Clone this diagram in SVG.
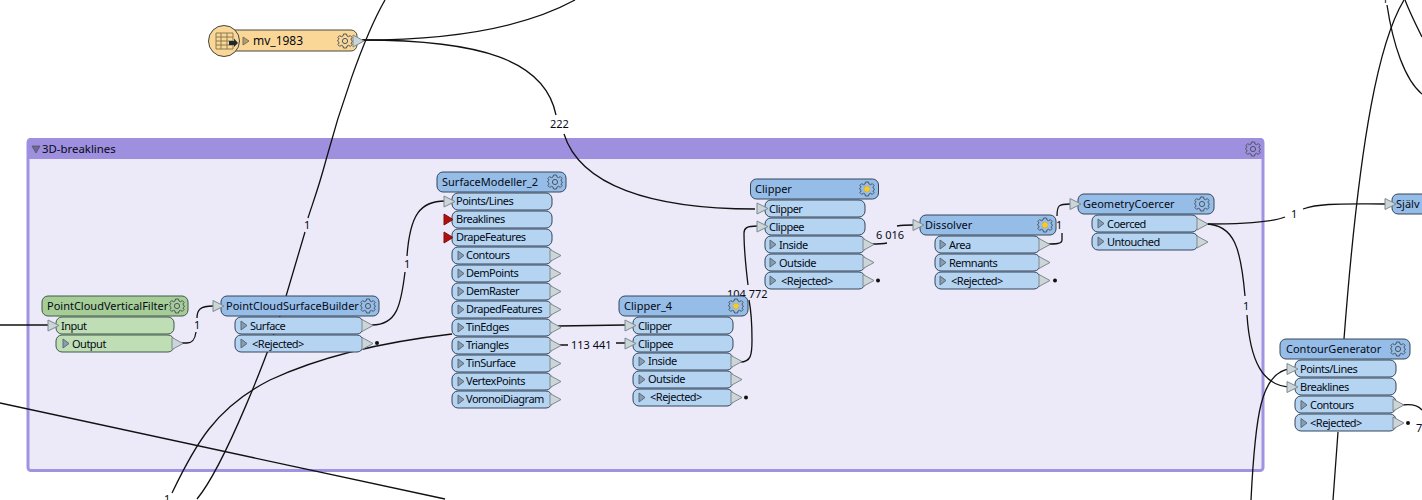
<svg xmlns="http://www.w3.org/2000/svg" xmlns:xlink="http://www.w3.org/1999/xlink" width="1422" height="500" viewBox="0 0 1422 500">
<style>
text{font-family:"Noto Sans","Liberation Sans",sans-serif;font-size:11px;letter-spacing:-.5px;fill:#050a14}
text.n,text.l{letter-spacing:0}
text.m{font-size:12px;letter-spacing:0}
text.g{font-size:11.4px;letter-spacing:0}
.c{fill:none;stroke:#111;stroke-width:1.3}
.h{fill:#95bde8;stroke:#34465a;stroke-width:1}
.p{fill:#b5d4f1;stroke:#34465a;stroke-width:1}
.gh{fill:#a6cd98;stroke:#3f5a48;stroke-width:1}
.gp{fill:#c0deb6;stroke:#3f5a48;stroke-width:1}
.tri{fill:#ccd5d8;stroke:#7d8a90;stroke-width:1}
.red{fill:#b01010;stroke:#801010;stroke-width:1}
.mini{fill:#8a9cb0;stroke:#5a6a7a;stroke-width:1}
.dot{fill:#111}
.gear{fill:none;stroke:#4c5660;stroke-width:1}
</style>
<defs>
<g id="gear">
<path class="gear" d="M-1.500-7H1.500L2-5L3.600-4.300L5.300-5.400L7.100-3.600L5.900-2L6.600-.5L7.500 0L6.600 1.500L5.900 2L7.100 3.600L5.300 5.400L3.600 4.300L2 5L1.500 7H-1.500L-2 5L-3.600 4.300L-5.300 5.400L-7.100 3.600L-5.900 2L-6.600 .5L-7.500 0L-6.600-1.500L-5.900-2L-7.100-3.600L-5.300-5.400L-3.600-4.300L-2-5Z"/>
<circle class="gear" r="2.600"/>
</g>
<g id="gearOn">
<use href="#gear"/>
<circle r="3" fill="#f6c92e"/>
</g>
<path id="in" class="tri" d="M0-5.500L11 0L0 5.500Z"/>
<path id="out" class="tri" d="M0-6L11 0L0 6Z"/>
<path id="inRed" class="red" d="M0-5.500L9 0L0 5.500Z"/>
<path id="mini" class="mini" d="M0-4.500L6 0L0 4.500Z"/>
</defs>

<g id="bookmark-3D-breaklines">
<rect x="28" y="139.500" width="1235" height="331" rx="3" fill="#ece9f8" stroke="#a094e0" stroke-width="3"/>
<path d="M27 142a4 4 0 0 1 4-4H1260a4 4 0 0 1 4 4V159H27Z" fill="#9e90de"/>
<path d="M32 146H40L36 153Z" fill="#6f6a8c" stroke="#4f4a6c" stroke-width=".7"/>
<text class="g" x="42" y="153">3D-breaklines</text>
<use href="#gear" x="1253" y="149"/>
</g>

<g id="connectors">
<path class="c" d="M0 325H48"/>
<path class="c" d="M385 0C362 40 338 115 326 160C318 190 312 205 308 218M305 232C298 255 291 280 284 303C270 350 225 465 197 499"/>
<path class="c" d="M0 403L445 499"/>
<path class="c" d="M452 334C400 340 330 352 270 380C215 408 195 445 172 493"/>
<path class="c" d="M362 40C480 40 545 60 556 115M564 134C580 185 650 209 755 209"/>
<path class="c" d="M362 40C440 40 520 30 575 0"/>
<path class="c" d="M182 343H187C193 343 195 339 196 332M197 318C197 310 200 306 213 306"/>
<path class="c" d="M372 325C397 325 401 305 405 272M407 256C410 215 420 201 445 201"/>
<path class="c" d="M558 326L625 325"/>
<path class="c" d="M558 345H568M616 343H625"/>
<path class="c" d="M740 362C751 362 752 355 752 340C752 325 751 310 749 300M748 285C745 260 744 240 744 233C744 228 747 226 757 226"/>
<path class="c" d="M871 244C878 244 882 244 887 243M897 226C903 225 908 225 913 225"/>
<path class="c" d="M1046 244C1056 244 1062 244 1062 240V233M1057 216C1057 205 1059 204 1070 204"/>
<path class="c" d="M1205 224C1240 224 1270 223 1285 217M1303 209C1320 203 1340 204 1385 204"/>
<path class="c" d="M1205 224C1235 224 1241 250 1245 296M1247 315C1250 360 1262 387 1292 387"/>
<path class="c" d="M1251 500C1255 420 1260 369 1292 369"/>
<path class="c" d="M1404 0C1380 40 1360 130 1344 339M1338 432L1333 500"/>
<path class="c" d="M1387 5C1393 45 1405 80 1422 94"/>
<path class="c" d="M1405 0C1410 13 1416 25 1422 37"/>
<path class="c" d="M1402 405C1410 404 1418 405 1422 410"/>
<text class="l" x="164" y="503">1</text>
<text class="l" x="304" y="229">1</text>
<text class="l" x="550" y="128">222</text>
<text class="l" x="194" y="329">1</text>
<text class="l" x="404" y="268">1</text>
<text class="l" x="571" y="349">113 441</text>
<text class="l" x="727" y="298">104 772</text>
<text class="l" x="876" y="239">6 016</text>
<text class="l" x="1056" y="229">1</text>
<text class="l" x="1291" y="218">1</text>
<text class="l" x="1243" y="310">1</text>
<text class="l" x="1382" y="3">1</text>
<text class="l" x="1416" y="432">7</text>
</g>

<g id="mv_1983">
<rect x="225" y="30" width="132" height="21" rx="6" fill="#fbd797" stroke="#4a4a40"/>
<circle cx="224" cy="41" r="15.500" fill="#fbd797" stroke="#444"/>
<path d="M216 33H233V49H216ZM216 37H233M216 41H233M216 45H233M221 33V49M227 33V49" fill="none" stroke="#8a7a50" stroke-width="1"/>
<path d="M229 41H234V38.500L238 43L234 47V45H229Z" fill="#1c2a30"/>
<path d="M243 37L249 41L243 45Z" fill="#b0a070" stroke="#7a7050"/>
<text class="m" x="253" y="45">mv_1983</text>
<use href="#gear" x="345" y="41"/>
<use href="#out" x="353" y="41"/>
</g>

<g id="PointCloudVerticalFilter">
<rect class="gh" x="42" y="296" width="146" height="20" rx="6"/>
<rect class="gp" x="56" y="317" width="118" height="17" rx="6"/>
<rect class="gp" x="56" y="335" width="118" height="17" rx="6"/>
<text class="n" x="47" y="310">PointCloudVerticalFilter</text>
<use href="#gear" x="177" y="306"/>
<use href="#in" x="48" y="325.500"/>
<text x="61" y="330">Input</text>
<use href="#mini" x="63" y="343.500"/>
<text x="72" y="348">Output</text>
<use href="#out" x="172" y="343.500"/>
</g>

<g id="PointCloudSurfaceBuilder">
<rect class="h" x="221" y="296" width="158" height="20" rx="6"/>
<rect class="p" x="235" y="317" width="128" height="17" rx="6"/>
<rect class="p" x="235" y="335" width="128" height="17" rx="6"/>
<text class="n" x="226" y="310">PointCloudSurfaceBuilder</text>
<use href="#gear" x="368" y="306"/>
<use href="#in" x="213" y="306"/>
<use href="#mini" x="241" y="325.500"/>
<text x="250" y="330">Surface</text>
<use href="#mini" x="241" y="343.500"/>
<text x="252" y="348">&lt;Rejected&gt;</text>
<use href="#out" x="362" y="325.500"/>
<use href="#out" x="362" y="343.500"/>
<circle class="dot" cx="377" cy="343" r="2"/>
</g>

<g id="SurfaceModeller_2">
<rect class="h" x="437" y="172" width="129" height="20" rx="6"/>
<rect class="p" x="452" y="193" width="100" height="17" rx="6"/>
<rect class="p" x="452" y="211" width="100" height="17" rx="6"/>
<rect class="p" x="452" y="229" width="100" height="17" rx="6"/>
<rect class="p" x="452" y="247" width="100" height="17" rx="6"/>
<rect class="p" x="452" y="265" width="100" height="17" rx="6"/>
<rect class="p" x="452" y="283" width="100" height="17" rx="6"/>
<rect class="p" x="452" y="301" width="100" height="17" rx="6"/>
<rect class="p" x="452" y="319" width="100" height="17" rx="6"/>
<rect class="p" x="452" y="337" width="100" height="17" rx="6"/>
<rect class="p" x="452" y="355" width="100" height="17" rx="6"/>
<rect class="p" x="452" y="373" width="100" height="17" rx="6"/>
<rect class="p" x="452" y="391" width="100" height="17" rx="6"/>
<text class="n" x="442" y="186">SurfaceModeller_2</text>
<use href="#gear" x="555" y="182"/>
<use href="#in" x="444" y="201.500"/>
<use href="#inRed" x="444" y="219.500"/>
<use href="#inRed" x="444" y="237.500"/>
<text x="456" y="205">Points/Lines</text>
<text x="456" y="223">Breaklines</text>
<text x="456" y="241">DrapeFeatures</text>
<use href="#mini" x="458" y="255.500"/><text x="466" y="259">Contours</text><use href="#out" x="550" y="255.500"/>
<use href="#mini" x="458" y="273.500"/><text x="466" y="277">DemPoints</text><use href="#out" x="550" y="273.500"/>
<use href="#mini" x="458" y="291.500"/><text x="466" y="295">DemRaster</text><use href="#out" x="550" y="291.500"/>
<use href="#mini" x="458" y="309.500"/><text x="466" y="313">DrapedFeatures</text><use href="#out" x="550" y="309.500"/>
<use href="#mini" x="458" y="327.500"/><text x="466" y="331">TinEdges</text><use href="#out" x="550" y="327.500"/>
<use href="#mini" x="458" y="345.500"/><text x="466" y="349">Triangles</text><use href="#out" x="550" y="345.500"/>
<use href="#mini" x="458" y="363.500"/><text x="466" y="367">TinSurface</text><use href="#out" x="550" y="363.500"/>
<use href="#mini" x="458" y="381.500"/><text x="466" y="385">VertexPoints</text><use href="#out" x="550" y="381.500"/>
<use href="#mini" x="458" y="399.500"/><text x="466" y="403">VoronoiDiagram</text><use href="#out" x="550" y="399.500"/>
</g>

<g id="Clipper_4">
<rect class="h" x="619" y="296" width="129" height="20" rx="6"/>
<rect class="p" x="633" y="317" width="100" height="17" rx="6"/>
<rect class="p" x="633" y="335" width="100" height="17" rx="6"/>
<rect class="p" x="633" y="353" width="100" height="17" rx="6"/>
<rect class="p" x="633" y="371" width="100" height="17" rx="6"/>
<rect class="p" x="633" y="389" width="100" height="17" rx="6"/>
<text class="n" x="624" y="310">Clipper_4</text>
<use href="#gearOn" x="736" y="306"/>
<use href="#in" x="625" y="325.500"/><text x="638" y="330">Clipper</text>
<use href="#in" x="625" y="343.500"/><text x="638" y="348">Clippee</text>
<use href="#mini" x="639" y="361.500"/><text x="648" y="365">Inside</text><use href="#out" x="731" y="361.500"/>
<use href="#mini" x="639" y="379.500"/><text x="648" y="383">Outside</text><use href="#out" x="731" y="379.500"/>
<use href="#mini" x="639" y="397.500"/><text x="650" y="401">&lt;Rejected&gt;</text><use href="#out" x="731" y="397.500"/>
<circle class="dot" cx="746" cy="397.500" r="2"/>
</g>

<g id="Clipper">
<rect class="h" x="750.500" y="179" width="128" height="20" rx="6"/>
<rect class="p" x="765" y="200" width="100" height="17" rx="6"/>
<rect class="p" x="765" y="218" width="100" height="17" rx="6"/>
<rect class="p" x="765" y="236" width="100" height="17" rx="6"/>
<rect class="p" x="765" y="254" width="100" height="17" rx="6"/>
<rect class="p" x="765" y="272" width="100" height="17" rx="6"/>
<text class="n" x="755" y="193">Clipper</text>
<use href="#gearOn" x="867" y="189"/>
<use href="#in" x="757" y="208.500"/><text x="769" y="213">Clipper</text>
<use href="#in" x="757" y="226.500"/><text x="769" y="231">Clippee</text>
<use href="#mini" x="770" y="244.500"/><text x="779" y="249">Inside</text><use href="#out" x="863" y="244.500"/>
<use href="#mini" x="770" y="262.500"/><text x="779" y="267">Outside</text><use href="#out" x="863" y="262.500"/>
<use href="#mini" x="770" y="280.500"/><text x="781" y="285">&lt;Rejected&gt;</text><use href="#out" x="863" y="280.500"/>
<circle class="dot" cx="878" cy="280.500" r="2"/>
</g>

<g id="Dissolver">
<rect class="h" x="920" y="215" width="136" height="20" rx="6"/>
<rect class="p" x="935" y="236" width="105" height="17" rx="6"/>
<rect class="p" x="935" y="254" width="105" height="17" rx="6"/>
<rect class="p" x="935" y="272" width="105" height="17" rx="6"/>
<text class="n" x="925" y="229">Dissolver</text>
<use href="#gearOn" x="1045" y="225"/>
<use href="#in" x="913" y="225"/>
<use href="#mini" x="940" y="244.500"/><text x="949" y="249">Area</text><use href="#out" x="1039" y="244.500"/>
<use href="#mini" x="940" y="262.500"/><text x="949" y="267">Remnants</text><use href="#out" x="1039" y="262.500"/>
<use href="#mini" x="940" y="280.500"/><text x="951" y="285">&lt;Rejected&gt;</text><use href="#out" x="1039" y="280.500"/>
<circle class="dot" cx="1055" cy="280.500" r="2"/>
</g>

<g id="GeometryCoercer">
<rect class="h" x="1078" y="194" width="136" height="20" rx="6"/>
<rect class="p" x="1092" y="215" width="106" height="17" rx="6"/>
<rect class="p" x="1092" y="233" width="106" height="17" rx="6"/>
<text class="n" x="1083" y="208">GeometryCoercer</text>
<use href="#gear" x="1202" y="204"/>
<use href="#in" x="1070" y="204"/>
<use href="#mini" x="1098" y="223.500"/><text x="1107" y="228">Coerced</text><use href="#out" x="1197" y="224"/>
<use href="#mini" x="1098" y="241.500"/><text x="1107" y="246">Untouched</text><use href="#out" x="1197" y="242"/>
</g>

<g id="Sjalv">
<rect class="h" x="1392" y="194" width="40" height="20" rx="6"/>
<text class="n" x="1396" y="208">Själv</text>
<use href="#in" x="1385" y="204"/>
</g>

<g id="ContourGenerator">
<rect class="h" x="1280" y="339" width="130" height="20" rx="6"/>
<rect class="p" x="1295" y="360" width="101" height="17" rx="6"/>
<rect class="p" x="1295" y="378" width="101" height="17" rx="6"/>
<rect class="p" x="1295" y="396" width="101" height="17" rx="6"/>
<rect class="p" x="1295" y="414" width="101" height="17" rx="6"/>
<text class="n" x="1286" y="353">ContourGenerator</text>
<use href="#gear" x="1398" y="349"/>
<use href="#in" x="1287" y="369"/><text x="1300" y="373">Points/Lines</text>
<use href="#in" x="1287" y="387"/><text x="1300" y="391">Breaklines</text>
<use href="#mini" x="1301" y="405"/><text x="1310" y="409">Contours</text><use href="#out" x="1393" y="405"/>
<use href="#mini" x="1301" y="423"/><text x="1310" y="427">&lt;Rejected&gt;</text><use href="#out" x="1393" y="423"/>
<circle class="dot" cx="1408" cy="423" r="2"/>
</g>
</svg>
